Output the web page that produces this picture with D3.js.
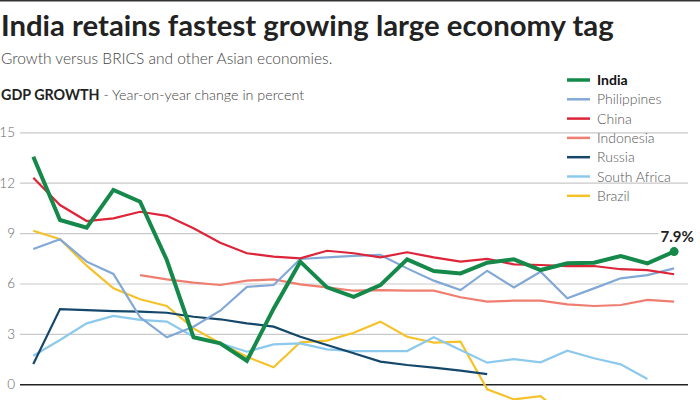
<!DOCTYPE html>
<html>
<head>
<meta charset="utf-8">
<script src="https://cdn.jsdelivr.net/npm/d3@7"></script>
<style>
  html, body { margin: 0; padding: 0; background: #fff; overflow: hidden; }
  svg { display: block; font-family: Lato, "Source Sans Pro", "Open Sans", sans-serif; }
</style>
</head>
<body>
<svg id="chart" width="700" height="400"></svg>
<script>
const quarters = ["2010 Q1","2010 Q2","2010 Q3","2010 Q4","2011 Q1","2011 Q2","2011 Q3","2011 Q4",
  "2012 Q1","2012 Q2","2012 Q3","2012 Q4","2013 Q1","2013 Q2","2013 Q3","2013 Q4",
  "2014 Q1","2014 Q2","2014 Q3","2014 Q4","2015 Q1","2015 Q2","2015 Q3","2015 Q4","2016 Q1"];

const india       = [13.55, 9.78, 9.32, 11.57, 10.87, 7.4, 2.8, 2.44, 1.4, 4.5, 7.3, 5.77, 5.21, 5.9, 7.44, 6.74, 6.6, 7.24, 7.44, 6.8, 7.2, 7.24, 7.64, 7.2, 7.9];
const philippines = [8.05, 8.63, 7.3, 6.57, 3.99, 2.8, 3.43, 4.38, 5.8, 5.91, 7.46, 7.56, 7.64, 7.7, 6.9, 6.17, 5.61, 6.76, 5.77, 6.7, 5.12, 5.71, 6.31, 6.5, 6.9];
const china       = [12.3, 10.67, 9.72, 9.88, 10.27, 10.03, 9.29, 8.43, 7.8, 7.6, 7.5, 7.95, 7.8, 7.56, 7.86, 7.56, 7.3, 7.46, 7.14, 7.1, 7.04, 7.04, 6.85, 6.8, 6.55];
const indonesia   = [null, null, null, null, 6.5, 6.25, 6.05, 5.91, 6.17, 6.25, 5.95, 5.77, 5.57, 5.61, 5.57, 5.57, 5.18, 4.92, 4.98, 4.98, 4.76, 4.66, 4.72, 5.02, 4.92];
const russia      = [1.21, 4.48, 4.42, 4.36, 4.32, 4.26, 4.02, 3.87, 3.63, 3.43, 2.83, 2.34, 1.85, 1.35, 1.15, 0.99, 0.81, 0.61];
const southAfrica = [1.7, 2.64, 3.63, 4.07, 3.83, 3.73, 2.83, 2.44, 1.94, 2.38, 2.44, 2.08, 1.98, 1.98, 1.98, 2.8, 2.04, 1.29, 1.5, 1.31, 2.0, 1.55, 1.19, 0.32];
const brazil      = [9.14, 8.63, 7.06, 5.71, 5.06, 4.66, 3.33, 2.44, 1.64, 1.01, 2.5, 2.6, 3.07, 3.73, 2.83, 2.48, 2.54, -0.3, -0.9, -0.7, -2.0, -3.0, -4.5, -5.9, -5.4];

const yTicks = [0, 3, 6, 9, 12, 15];

const seriesNames  = ["India", "Philippines", "China", "Indonesia", "Russia", "South Africa", "Brazil"];
const seriesValues = [india, philippines, china, indonesia, russia, southAfrica, brazil];
const seriesColors = ["#14894a", "#82a8d6", "#dd2439", "#ef7d70", "#15476a", "#8cc9ec", "#f5c22b"];

const svg = d3.select("#chart");

// top rule
svg.append("rect").attr("x", 0).attr("y", 0).attr("width", 700).attr("height", 1.5).attr("fill", "#333");

// titles
svg.append("text").attr("x", 1).attr("y", 36)
  .attr("font-size", 29.3).attr("font-weight", 700).attr("fill", "#222")
  .text("India retains fastest growing large economy tag");
svg.append("text").attr("x", 1).attr("y", 64)
  .attr("font-size", 15.5).attr("font-weight", 300).attr("fill", "#444")
  .text("Growth versus BRICS and other Asian economies.");
const sub = svg.append("text").attr("x", 1).attr("y", 100)
  .attr("font-size", 14.3).attr("fill", "#222");
sub.append("tspan").attr("font-weight", 700).text("GDP GROWTH");
sub.append("tspan").attr("font-weight", 300).attr("fill", "#444").text(" - Year-on-year change in percent");

const x = d3.scalePoint().domain(quarters).range([33.3, 674.1]);
const y = d3.scaleLinear().domain([0, 15]).range([384.3, 132.3]);

// grid via axis
const gridLeft = 20, gridRight = 688;
const axis = d3.axisLeft(y).tickValues(yTicks).tickSize(-(gridRight - gridLeft)).tickPadding(5)
  .tickFormat(d3.format("d"));
const gAxis = svg.append("g").attr("transform", `translate(${gridLeft},0)`).call(axis);
gAxis.select(".domain").remove();
gAxis.selectAll(".tick line").attr("stroke", d => d === 0 ? "#222" : "#c9c9c9")
  .attr("stroke-width", d => d === 0 ? 1.5 : 1.2);
gAxis.selectAll(".tick text").attr("fill", "#666").attr("font-size", 13.5).attr("font-weight", 300)
  .attr("font-family", "Lato, sans-serif");

// lines
const line = d3.line()
  .defined(d => d.v !== null)
  .x(d => x(d.q))
  .y(d => y(d.v));

const order = [6, 5, 4, 3, 1, 2, 0];
order.forEach(i => {
  const data = seriesValues[i].map((v, j) => ({ q: quarters[j], v }));
  svg.append("path").datum(data)
    .attr("fill", "none")
    .attr("stroke", seriesColors[i])
    .attr("stroke-width", i === 0 ? 4 : 2.2)
    .attr("stroke-linejoin", "miter")
    .attr("d", line);
});

// end dot and label for India
const lastQ = quarters[india.length - 1];
const lastV = india[india.length - 1];
svg.append("text").attr("x", x(lastQ) + 3).attr("y", y(lastV) - 10)
  .attr("text-anchor", "middle").attr("font-size", 15).attr("font-weight", 700).attr("fill", "#222")
  .attr("stroke", "#fff").attr("stroke-width", 6).attr("paint-order", "stroke")
  .text(lastV.toFixed(1) + "%");
svg.append("circle").attr("cx", x(lastQ)).attr("cy", y(lastV)).attr("r", 4.5).attr("fill", seriesColors[0]);

// legend
const legend = svg.append("g").attr("transform", "translate(567,80)");
seriesNames.forEach((name, i) => {
  const g = legend.append("g").attr("transform", `translate(0,${i * 19.3})`);
  g.append("line").attr("x1", 0).attr("x2", 23).attr("y1", 0).attr("y2", 0)
    .attr("stroke", seriesColors[i]).attr("stroke-width", i === 0 ? 3.5 : 2.5);
  g.append("text").attr("x", 30).attr("y", 5)
    .attr("font-size", 14).attr("font-weight", i === 0 ? 700 : 300)
    .attr("fill", i === 0 ? "#111" : "#555")
    .text(name);
});
</script>
</body>
</html>
